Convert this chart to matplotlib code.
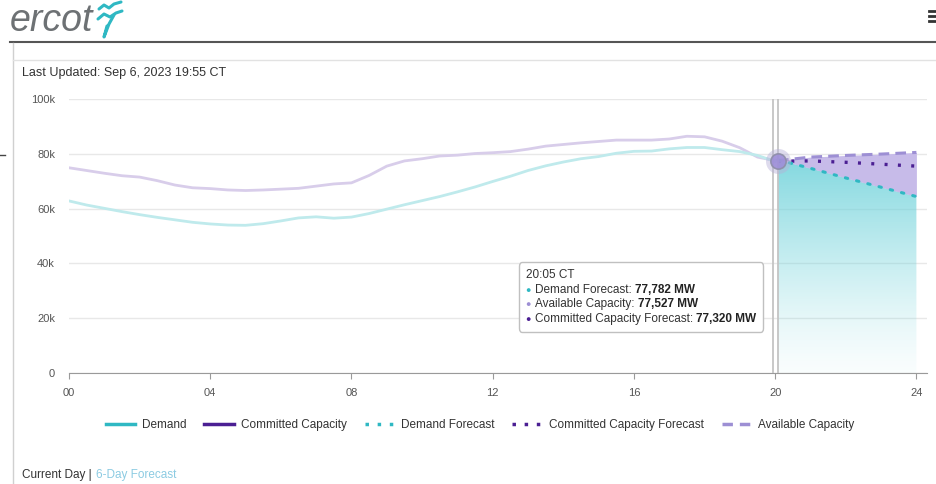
import numpy as np
import matplotlib.pyplot as plt
from matplotlib.lines import Line2D
from matplotlib.offsetbox import TextArea, HPacker, VPacker, AnnotationBbox

plt.rcParams['font.family'] = ['Liberation Sans', 'DejaVu Sans']

# ---- data (MW) ----
hours = [0.0, 0.5, 1.0, 1.5, 2.0, 2.5, 3.0, 3.5, 4.0, 4.5, 5.0, 5.5, 6.0, 6.5,
         7.0, 7.5, 8.0, 8.5, 9.0, 9.5, 10.0, 10.5, 11.0, 11.5, 12.0, 12.5,
         13.0, 13.5, 14.0, 14.5, 15.0, 15.5, 16.0, 16.5, 17.0, 17.5, 18.0,
         18.5, 19.0, 19.5, 20.0]
demand = [62800, 61300, 60100, 58900, 57800, 56800, 55900, 55000, 54400,
          54000, 53900, 54500, 55500, 56600, 57000, 56500, 56900, 58200,
          59800, 61400, 62900, 64400, 66100, 67900, 69900, 71800, 73900,
          75600, 77000, 78200, 79000, 80200, 80900, 81000, 81800, 82300,
          82300, 81500, 80800, 79400, 77200]
available = [74900, 73900, 72900, 72000, 71500, 70200, 68600, 67600, 67300,
             66800, 66600, 66800, 67100, 67400, 68200, 69000, 69400, 72100,
             75500, 77400, 78200, 79200, 79500, 80100, 80400, 80800, 81700,
             82800, 83400, 84000, 84500, 85000, 85000, 85000, 85400, 86400,
             86200, 84600, 82200, 78800, 77500]

fc_hours = [20.08, 21, 22, 23, 24]
demand_fc = [77800, 74700, 71200, 67800, 64400]
committed_fc = [77300, 77400, 76900, 76200, 75500]
available_fc = [77500, 78800, 79400, 79900, 80500]

cursor_hours = [19.93, 20.09]

y_ticks = [0, 20000, 40000, 60000, 80000, 100000]
y_labels = ['0', '20k', '40k', '60k', '80k', '100k']
x_ticks = [0, 4, 8, 12, 16, 20, 24]
x_labels = ['00', '04', '08', '12', '16', '20', '24']

legend_names = ['Demand', 'Committed Capacity', 'Demand Forecast',
                'Committed Capacity Forecast', 'Available Capacity']

tip_time = '20:05 CT'
tip_names = ['Demand Forecast', 'Available Capacity', 'Committed Capacity Forecast']
tip_values = [77782, 77527, 77320]

# colours
TEAL = '#2fb8c3'
TEAL_FADE = '#bfeaec'
PURPLE = '#4b1f93'
LAV = '#9d8fd4'
LAV_FADE = '#d8cdea'
FILL_LAV = '#c7bbe9'

W, H = 936, 484
fig = plt.figure(figsize=(W / 100, H / 100), dpi=100)
fig.patch.set_facecolor('white')

# overlay in pixel coordinates for page decorations
ov = fig.add_axes([0, 0, 1, 1], zorder=-1)
ov.set_xlim(0, W)
ov.set_ylim(H, 0)
ov.axis('off')

ov.text(10, 31, 'ercot', fontsize=27, style='italic', color='#6d7174',
        va='baseline', ha='left')
# logo mark
ov.plot([99, 104, 109, 114, 121], [9, 5, 8, 4, 2], color=TEAL, lw=2.2,
        solid_capstyle='round')
ov.plot([98, 104, 110, 116, 122], [19, 14, 17, 13, 11], color=TEAL, lw=2.2,
        solid_capstyle='round')
ov.plot([114, 109, 104, 107], [15, 24, 37, 26], color=TEAL, lw=2.2,
        solid_capstyle='round')
# hamburger
for yy in [11, 16, 21]:
    ov.plot([929, 936], [yy, yy], color='#333333', lw=2)
ov.plot([10, W], [42, 42], color='#555555', lw=1.5)
ov.plot([13, 13], [43, H], color='#d0d0d0', lw=1)
ov.plot([13, W], [60, 60], color='#e2e2e2', lw=1)
ov.plot([0, 5], [155, 155], color='#444444', lw=1)

ov.text(22, 73, 'Last Updated: Sep 6, 2023 19:55 CT', fontsize=9,
        color='#333333', va='center')
t1 = ov.text(22, 475, 'Current Day |', fontsize=8.5, color='#333333',
             va='center')
ov.annotate('6-Day Forecast', xy=(1, 0.5), xycoords=t1, xytext=(3, 0),
            textcoords='offset points', fontsize=8.5, color='#8ccbe2',
            va='center')

# ---- main chart ----
left, right = 69 / W, 927 / W
bottom, top = 1 - 373 / H, 1 - 99 / H
ax = fig.add_axes([left, bottom, right - left, top - bottom])
ax.set_facecolor('none')

ax.plot(hours, available, color=LAV_FADE, lw=2, zorder=3)
ax.plot(hours, demand, color=TEAL_FADE, lw=2, zorder=3)

# gradient area under the demand forecast
poly = ax.fill_between(fc_hours, 0, demand_fc, color='none', lw=0)
grad = np.linspace(0, 1, 256).reshape(-1, 1)
img = np.zeros((256, 1, 4))
img[..., 0] = 0.45
img[..., 1] = 0.83
img[..., 2] = 0.86
img[..., 3] = 0.04 + 0.84 * grad[::-1] ** 1.3
im = ax.imshow(img, extent=[fc_hours[0], fc_hours[-1], 0, max(demand_fc)],
               aspect='auto', origin='upper', zorder=1)
im.set_clip_path(poly.get_paths()[0], transform=ax.transData)
ax.fill_between(fc_hours, demand_fc, available_fc, color=FILL_LAV, lw=0,
                zorder=1)

ax.plot(fc_hours, available_fc, color=LAV, lw=2.2, ls=(0, (3.5, 2)), zorder=4)
ax.plot(fc_hours, committed_fc, color=PURPLE, lw=2.4, ls=(0, (0.9, 3.1)),
        zorder=4)
ax.plot(fc_hours, demand_fc, color=TEAL, lw=2.2, ls=(0, (0.8, 3.0)),
        dash_capstyle='round', zorder=4)

for xc in cursor_hours:
    ax.axvline(xc, color='#c4c4c4', lw=1.3, zorder=5)
# hover marker with halo
ax.plot([fc_hours[0]], [available_fc[0]], 'o', ms=18, mfc='#b7b0d8',
        mec='none', alpha=0.45, zorder=6)
ax.plot([fc_hours[0]], [available_fc[0]], 'o', ms=11, mfc='#9e8fd8',
        mec='#8e8ea8', mew=1.2, alpha=0.9, zorder=7)

ax.set_xlim(0, 24.3)
ax.set_ylim(0, 100000)
ax.set_yticks(y_ticks)
ax.set_yticklabels(y_labels)
ax.set_xticks(x_ticks)
ax.set_xticklabels(x_labels)
ax.grid(axis='y', color='#e8e8e8', lw=1)
ax.set_axisbelow(True)
for s in ['top', 'right', 'left']:
    ax.spines[s].set_visible(False)
ax.spines['bottom'].set_color('#9a9a9a')
ax.tick_params(axis='y', length=0, pad=10, labelsize=8, labelcolor='#555555')
ax.tick_params(axis='x', length=4, direction='out', color='#9a9a9a', pad=7,
               labelsize=8, labelcolor='#555555')

# tooltip
tp = dict(size=8.5, color='#333333')
rows = [TextArea(tip_time, textprops=tp)]
for name, val, col in zip(tip_names, tip_values, [TEAL, LAV, PURPLE]):
    rows.append(HPacker(children=[
        TextArea('\u25cf', textprops=dict(size=6.5, color=col)),
        TextArea(name + ':', textprops=tp),
        TextArea(f'{val:,} MW', textprops=dict(size=8.5, color='#222222',
                                               weight='bold')),
    ], pad=0, sep=2.5, align='baseline'))
box = VPacker(children=rows, pad=0, sep=1.8, align='left')
ab = AnnotationBbox(box, (641 / W, 1 - 297 / H), xycoords='figure fraction',
                    frameon=True, pad=0.5,
                    bboxprops=dict(edgecolor='#c0c0c0', facecolor='white',
                                   lw=1, boxstyle='round,pad=0.5,rounding_size=0.25'))
ab.set_zorder(10)
fig.add_artist(ab)

# legend
handles = [
    Line2D([], [], color=TEAL, lw=2.5),
    Line2D([], [], color=PURPLE, lw=2.5),
    Line2D([], [], color=TEAL, lw=2.5, ls=(0, (1, 2.5))),
    Line2D([], [], color=PURPLE, lw=2.5, ls=(0, (1, 2.5))),
    Line2D([], [], color=LAV, lw=2.5, ls=(0, (3, 2))),
]
fig.legend(handles, legend_names, loc='center', bbox_to_anchor=(480 / W, 1 - 425 / H),
           ncol=5, frameon=False, fontsize=8.5, handlelength=2.5,
           handletextpad=0.6, columnspacing=1.5, labelcolor='#333333')

fig.savefig('out.png', dpi=100, facecolor='white')
